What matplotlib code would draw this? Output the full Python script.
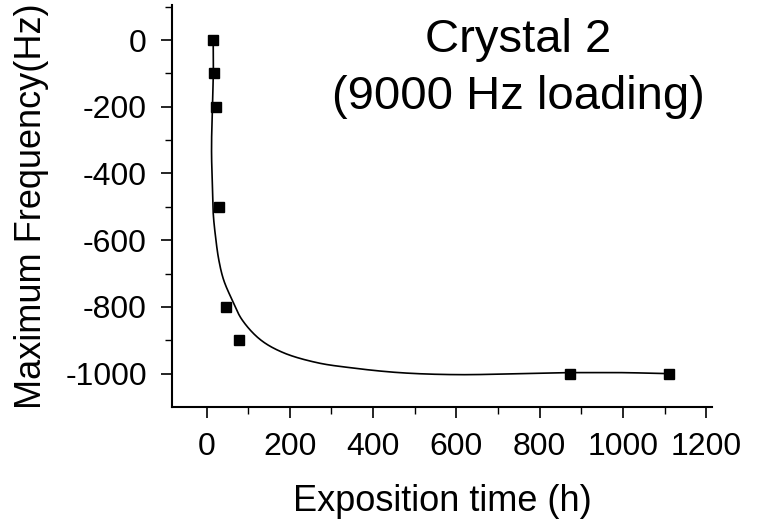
import numpy as np
import matplotlib.pyplot as plt

plt.rcParams['font.family'] = ['Liberation Sans', 'DejaVu Sans']
plt.rcParams['axes.unicode_minus'] = False

# measured points
time_h = [16, 18, 23, 31, 47, 78, 872, 1110]
freq_hz = [0, -100, -200, -500, -800, -900, -1000, -1000]

# fitted trend curve (hand-traced nodes)
fit_x = [16, 16.5, 15, 13, 12, 13.6, 16, 21.5, 29.4, 41, 61, 85, 129, 184,
         265, 344, 463, 599, 757, 869, 916, 1000, 1110]
fit_y = [-10, -80, -160, -240, -340, -419, -519, -589, -659, -719, -778,
         -838, -898, -937, -967, -982, -997, -1003, -1000, -997, -997, -997,
         -1000]


def smooth(xs, ys, sx=0.419, sy=0.334, n=30):
    # centripetal Catmull-Rom, knots spaced in screen-like units
    p = np.column_stack([np.asarray(xs) * sx, np.asarray(ys) * sy])
    p = np.vstack([2 * p[0] - p[1], p, 2 * p[-1] - p[-2]])
    d = np.sqrt(np.linalg.norm(np.diff(p, axis=0), axis=1))
    k = np.concatenate([[0], np.cumsum(d)])
    out = []
    for i in range(1, len(p) - 2):
        t0, t1, t2, t3 = k[i - 1], k[i], k[i + 1], k[i + 2]
        p0, p1, p2, p3 = p[i - 1], p[i], p[i + 1], p[i + 2]
        t = np.linspace(t1, t2, n, endpoint=False)[:, None]
        a1 = (t1 - t) / (t1 - t0) * p0 + (t - t0) / (t1 - t0) * p1
        a2 = (t2 - t) / (t2 - t1) * p1 + (t - t1) / (t2 - t1) * p2
        a3 = (t3 - t) / (t3 - t2) * p2 + (t - t2) / (t3 - t2) * p3
        b1 = (t2 - t) / (t2 - t0) * a1 + (t - t0) / (t2 - t0) * a2
        b2 = (t3 - t) / (t3 - t1) * a2 + (t - t1) / (t3 - t1) * a3
        out.append((t2 - t) / (t2 - t1) * b1 + (t - t1) / (t2 - t1) * b2)
    out.append(p[-2][None, :])
    out = np.vstack(out)
    return out[:, 0] / sx, out[:, 1] / sy


fig = plt.figure(figsize=(7.75, 5.25), dpi=100)
ax = fig.add_axes([172 / 775, 118 / 525, 540 / 775, 402 / 525])

cx, cy = smooth(fit_x, fit_y)
ax.plot(cx, cy, color='black', lw=1.2)
ax.plot(time_h, freq_hz, 's', color='black', ms=6.5)

ax.set_xlim(-83, 1214)
ax.set_ylim(-1100, 105)
ax.set_xticks([0, 200, 400, 600, 800, 1000, 1200])
ax.set_xticks(np.arange(100, 1200, 200), minor=True)
ax.set_yticks([0, -200, -400, -600, -800, -1000])
ax.set_yticks([100, -100, -300, -500, -700, -900], minor=True)

for s in ['top', 'right']:
    ax.spines[s].set_visible(False)
for s in ['left', 'bottom']:
    ax.spines[s].set_linewidth(1.5)

ax.tick_params(which='major', direction='out', length=8, width=1.2,
               labelsize=23, pad=10)
ax.tick_params(which='minor', direction='out', length=5, width=1.0)

ax.set_xlabel('Exposition time (h)', fontsize=26, labelpad=16)
ax.set_ylabel('Maximum Frequency(Hz)', fontsize=26, labelpad=12)

fig.text(518 / 775, 1 - 40 / 525, 'Crystal 2', fontsize=34,
         ha='center', va='center')
fig.text(518 / 775, 1 - 97 / 525, '(9000 Hz loading)', fontsize=34,
         ha='center', va='center')

fig.savefig('out.png', dpi=100)
